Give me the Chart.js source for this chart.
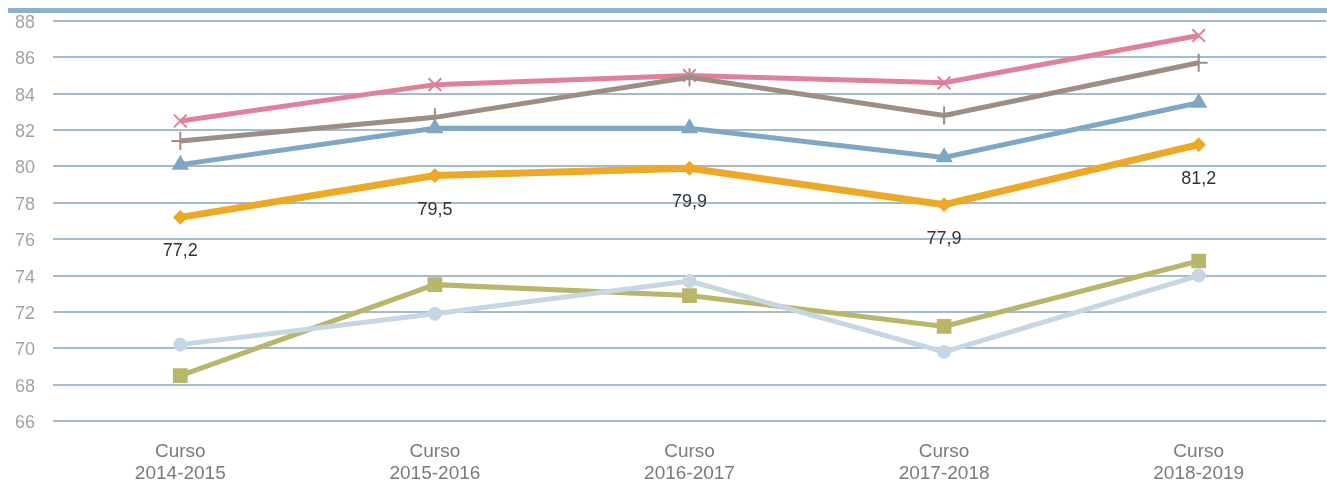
<!DOCTYPE html>
<html>
<head>
<meta charset="utf-8">
<script src="https://cdn.jsdelivr.net/npm/chart.js@4.4.1/dist/chart.umd.min.js"></script>
<style>
html,body{margin:0;padding:0;background:#fff;}
#wrap{width:1327px;height:486px;position:relative;}
</style>
</head>
<body>
<div id="wrap"><canvas id="c" width="1327" height="486"></canvas></div>
<script>
const categories = [['Curso','2014-2015'],['Curso','2015-2016'],['Curso','2016-2017'],['Curso','2017-2018'],['Curso','2018-2019']];
const seriesPink   = [82.5, 84.5, 85.0, 84.6, 87.2];
const seriesBrown  = [81.4, 82.7, 84.9, 82.8, 85.7];
const seriesBlue   = [80.1, 82.1, 82.1, 80.5, 83.5];
const seriesOrange = [77.2, 79.5, 79.9, 77.9, 81.2];
const seriesOlive  = [68.5, 73.5, 72.9, 71.2, 74.8];
const seriesLight  = [70.2, 71.9, 73.7, 69.8, 74.0];
const orangeLabels = ['77,2','79,5','79,9','77,9','81,2'];
const yTicks = [66,68,70,72,74,76,78,80,82,84,86,88];

const topBar = {
  id:'topBar',
  beforeDraw(chart){
    const ctx = chart.ctx;
    ctx.save();
    ctx.fillStyle = '#8db0cc';
    ctx.fillRect(8, 8, chart.width - 8, 5);
    ctx.restore();
  }
};
const valueLabels = {
  id:'valueLabels',
  afterDatasetsDraw(chart){
    const idx = chart.data.datasets.findIndex(d => d.label === 'orange');
    const meta = chart.getDatasetMeta(idx);
    const ctx = chart.ctx;
    ctx.save();
    ctx.font = '18px "Liberation Sans", Arial, sans-serif';
    ctx.fillStyle = '#333333';
    ctx.textAlign = 'center';
    ctx.textBaseline = 'middle';
    meta.data.forEach((pt, i) => {
      ctx.fillText(orangeLabels[i], pt.x, pt.y + 34);
    });
    ctx.restore();
  }
};

function ds(label, data, color, style, width, radius){
  return {label, data, borderColor: color, backgroundColor: color, pointStyle: style,
    pointRadius: radius, pointHoverRadius: radius, borderWidth: width,
    pointBorderWidth: 2, tension: 0};
}

new Chart(document.getElementById('c'), {
  type:'line',
  data:{
    labels: categories,
    datasets:[
      ds('pink', seriesPink,  '#e0819b', 'crossRot', 5, 9),
      ds('brown', seriesBrown, '#9d8d85', 'cross', 5, 9),
      ds('blue', seriesBlue,  '#7fa6c5', 'triangle', 5, 8),
      ds('orange', seriesOrange,'#eca826', 'rectRot', 7, 6),
      ds('olive', seriesOlive, '#b8b66a', 'rect', 5, 9),
      ds('light', seriesLight, '#c6d6e3', 'circle', 5, 6)
    ].reverse()
  },
  options:{
    responsive:false,
    animation:false,
    layout:{autoPadding:false,padding:{top:21,right:1,left:0,bottom:0}},
    plugins:{legend:{display:false},tooltip:{enabled:false}},
    scales:{
      x:{
        offset:true,
        grid:{display:false},
        border:{display:false},
        ticks:{color:'#7a7a7a',font:{family:'"Liberation Sans", Arial, sans-serif',size:19},padding:11,maxRotation:0,autoSkip:false},
        afterFit(s){ s.height = 65; s.paddingLeft = 0; s.paddingRight = 0; }
      },
      y:{
        min:66,max:88,
        afterBuildTicks(s){ s.ticks = yTicks.map(v=>({value:v})); },
        grid:{color:'#a3bbce',lineWidth:2,drawTicks:false},
        border:{display:false},
        ticks:{color:'#a3a3a3',font:{family:'"Liberation Sans", Arial, sans-serif',size:18},padding:18,labelOffset:2},
        afterFit(s){ s.width = 53; s.paddingTop = 0; s.paddingBottom = 0; }
      }
    }
  },
  plugins:[topBar, valueLabels]
});
</script>
</body>
</html>
